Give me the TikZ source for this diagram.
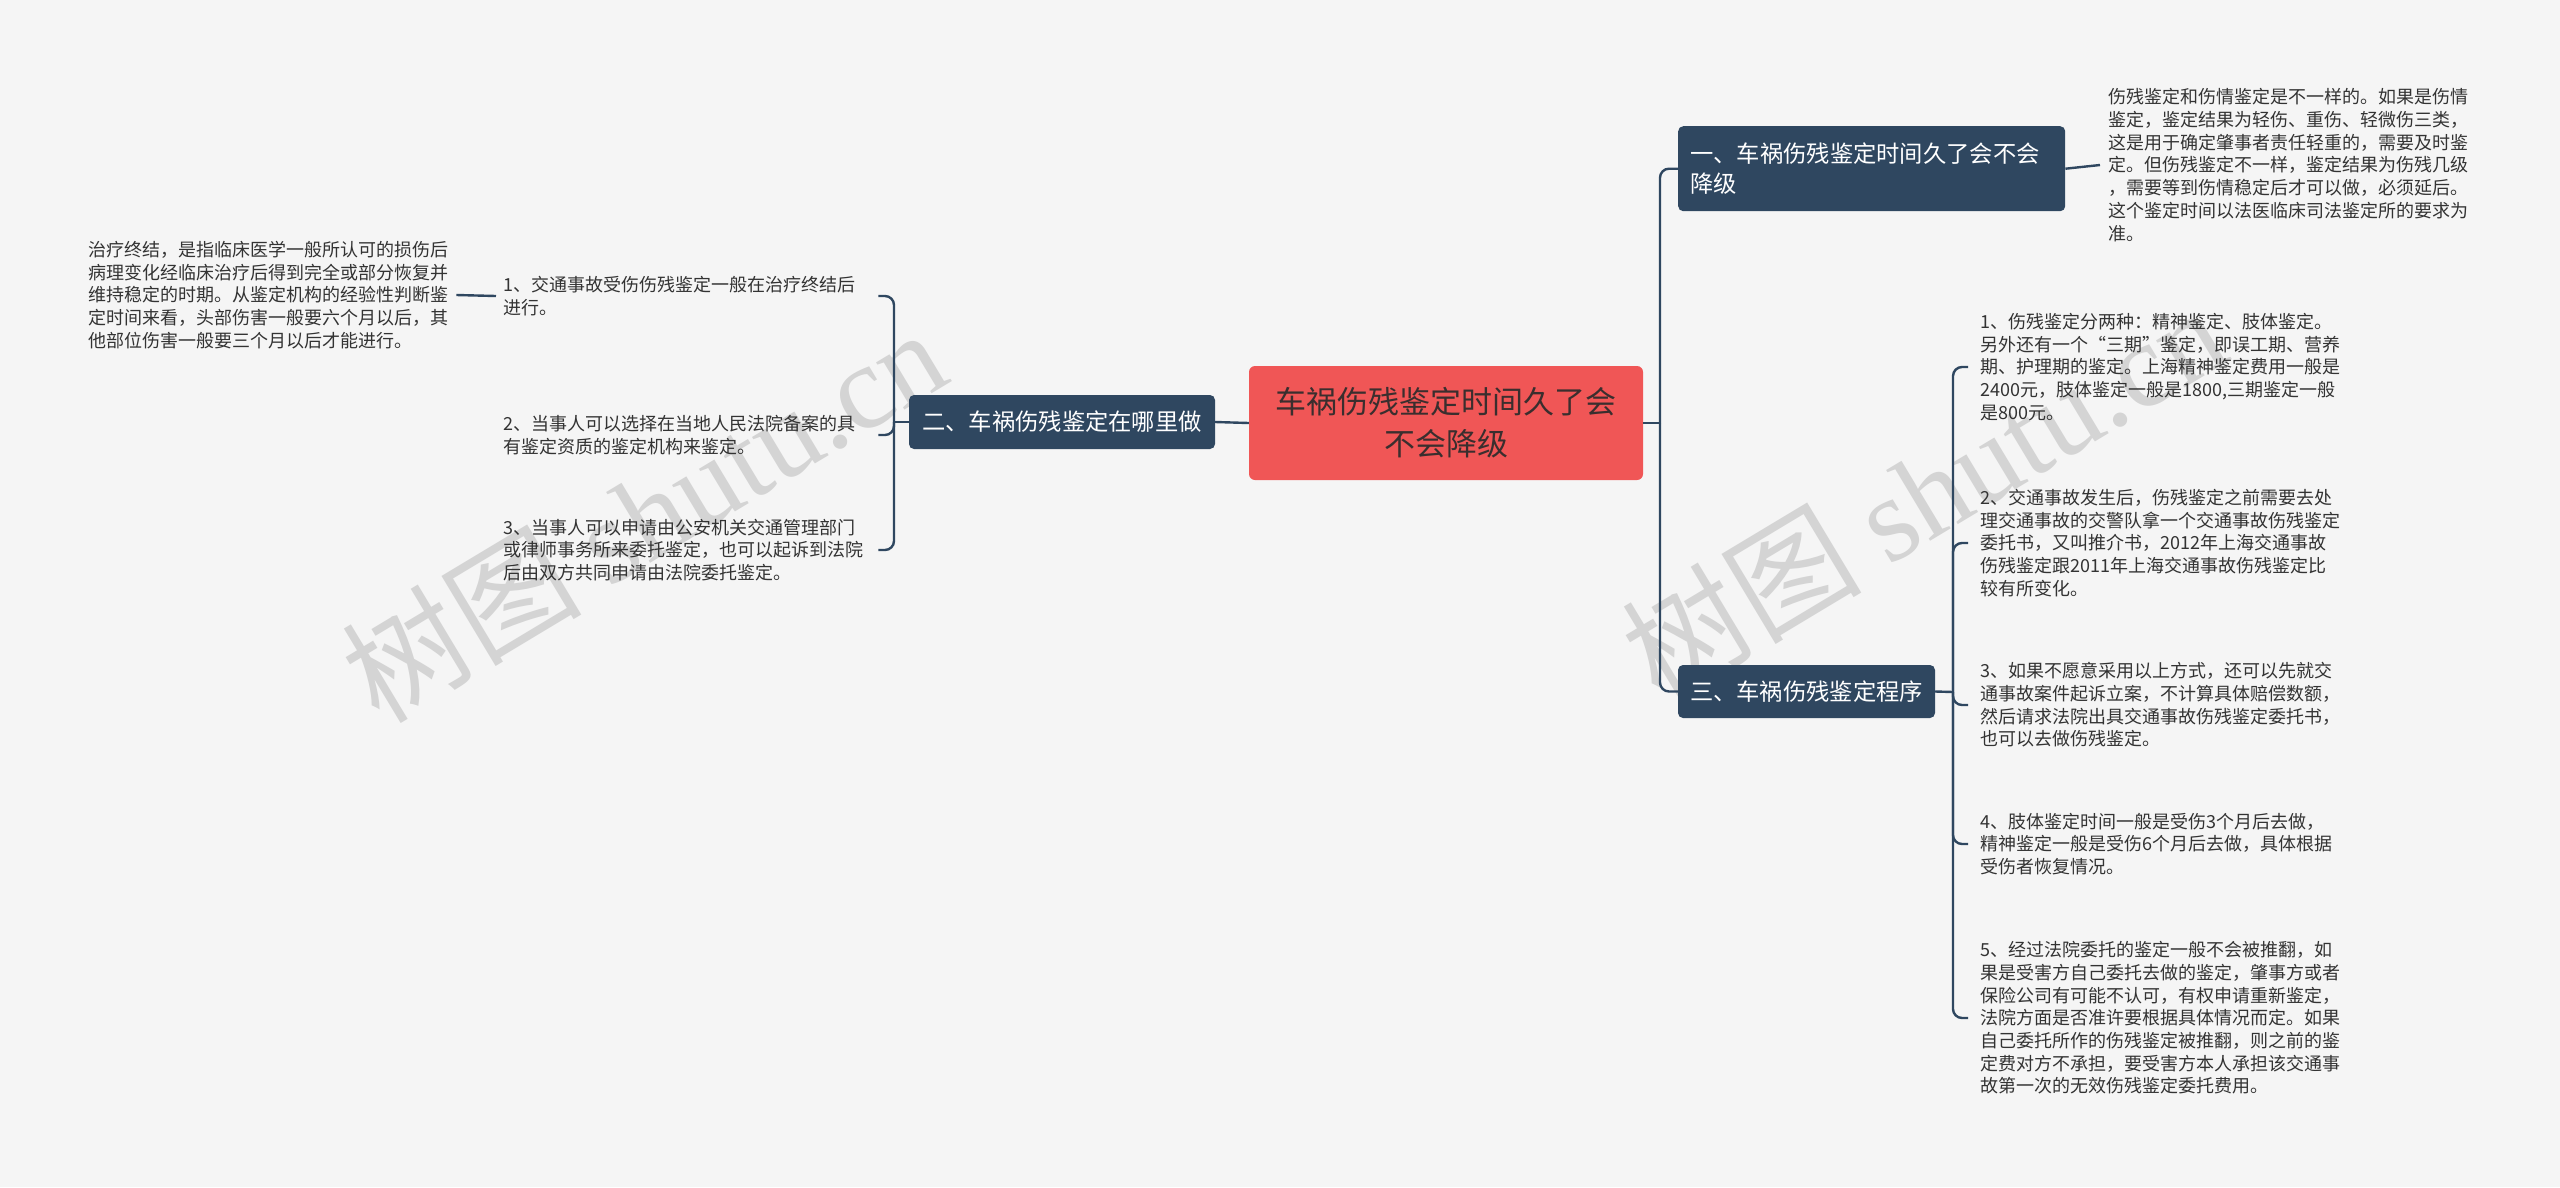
\documentclass[tikz,border=0pt]{standalone}
\usepackage{fontspec}
\setmainfont{Noto Sans CJK SC}
\newfontfamily\wmserif{Liberation Serif}
\definecolor{bg}{HTML}{F5F5F5}
\definecolor{dk}{HTML}{2F4760}
\definecolor{rd}{HTML}{F05656}
\definecolor{tx}{HTML}{333333}
\definecolor{tx2}{HTML}{3A2E2E}
\definecolor{wm}{HTML}{D4D4D4}
\begin{document}
\begin{tikzpicture}[x=1pt,y=-1pt,
  conn/.style={draw=dk,line width=2.4pt,rounded corners=9pt},
  topic/.style={fill=dk,rounded corners=5pt,text=white,inner sep=0pt,font=\fontsize{23.3}{30}\selectfont},
  leaf/.style={text=tx,inner sep=0pt,align=left,text width=368pt,anchor=west,font=\fontsize{18}{22.7}\selectfont},
  wmark/.style={text=wm,rotate=31,inner sep=0pt,font=\fontsize{120}{120}\selectfont}]
\fill[bg] (0,0) rectangle (2560,1187);
\useasboundingbox (0,0) rectangle (2560,1187);

% watermarks
\node[wmark] (wm1) at (643,514) {树图 {\wmserif shutu.cn}};
\node[wmark] (wm2) at (1923,492) {树图 {\wmserif shutu.cn}};

% main nodes
\node[fill=rd,rounded corners=6pt,text=tx2,minimum width=394pt,minimum height=114pt,align=center,inner sep=0pt,font=\fontsize{31}{42}\selectfont] (root) at (1446,423) {车祸伤残鉴定时间久了会\\不会降级};
\node[topic,minimum width=306pt,minimum height=54pt] (n2) at (1062,422) {二、车祸伤残鉴定在哪里做};
\node[topic,minimum width=257pt,minimum height=53pt] (n3) at (1806.5,691.5) {三、车祸伤残鉴定程序};
\node[topic,anchor=north west,text width=363pt,inner xsep=12pt,minimum height=85pt,align=left] (n1) at (1678,126) {一、车祸伤残鉴定时间久了会不会\\降级};

% leaves
\node[leaf] (lf) at (88,295) {治疗终结，是指临床医学一般所认可的损伤后\\病理变化经临床治疗后得到完全或部分恢复并\\维持稳定的时期。从鉴定机构的经验性判断鉴\\定时间来看，头部伤害一般要六个月以后，其\\他部位伤害一般要三个月以后才能进行。};
\node[leaf] (li1) at (503,296) {1、交通事故受伤伤残鉴定一般在治疗终结后\\进行。};
\node[leaf] (li2) at (503,435) {2、当事人可以选择在当地人民法院备案的具\\有鉴定资质的鉴定机构来鉴定。};
\node[leaf] (li3) at (503,550) {3、当事人可以申请由公安机关交通管理部门\\或律师事务所来委托鉴定，也可以起诉到法院\\后由双方共同申请由法院委托鉴定。};
\node[leaf] (tr) at (2108,165) {伤残鉴定和伤情鉴定是不一样的。如果是伤情\\鉴定，鉴定结果为轻伤、重伤、轻微伤三类，\\这是用于确定肇事者责任轻重的，需要及时鉴\\定。但伤残鉴定不一样，鉴定结果为伤残几级\\，需要等到伤情稳定后才可以做，必须延后。\\这个鉴定时间以法医临床司法鉴定所的要求为\\准。};
\node[leaf] (ri1) at (1980,367) {1、伤残鉴定分两种：精神鉴定、肢体鉴定。\\另外还有一个“三期”鉴定，即误工期、营养\\期、护理期的鉴定。上海精神鉴定费用一般是\\2400元，肢体鉴定一般是1800,三期鉴定一般\\是800元。};
\node[leaf] (ri2) at (1980,543) {2、交通事故发生后，伤残鉴定之前需要去处\\理交通事故的交警队拿一个交通事故伤残鉴定\\委托书，又叫推介书，2012年上海交通事故\\伤残鉴定跟2011年上海交通事故伤残鉴定比\\较有所变化。};
\node[leaf] (ri3) at (1980,705) {3、如果不愿意采用以上方式，还可以先就交\\通事故案件起诉立案，不计算具体赔偿数额，\\然后请求法院出具交通事故伤残鉴定委托书，\\也可以去做伤残鉴定。};
\node[leaf] (ri4) at (1980,844) {4、肢体鉴定时间一般是受伤3个月后去做，\\精神鉴定一般是受伤6个月后去做，具体根据\\受伤者恢复情况。};
\node[leaf] (ri5) at (1980,1018) {5、经过法院委托的鉴定一般不会被推翻，如\\果是受害方自己委托去做的鉴定，肇事方或者\\保险公司有可能不认可，有权申请重新鉴定，\\法院方面是否准许要根据具体情况而定。如果\\自己委托所作的伤残鉴定被推翻，则之前的鉴\\定费对方不承担，要受害方本人承担该交通事\\故第一次的无效伤残鉴定委托费用。};

% connectors
\coordinate (jr) at (1660,423);
\draw[conn] (root.east) -- (jr);
\draw[conn] (jr) |- (n1.west);
\draw[conn] (jr) |- (n3.west);
\draw[conn] (root.west) -- (n2.east);
\coordinate (jl) at (894,422);
\draw[conn] (n2.west) -- (jl);
\foreach \i in {1,2,3} \draw[conn] (jl) |- ([xshift=7pt]li\i.east);
\draw[conn] ([xshift=-7pt]li1.west) -- (lf.east);
\draw[conn] (n1.east) -- ([xshift=-8pt]tr.west);
\coordinate (jr3) at (1953,692);
\draw[conn] (n3.east) -- (jr3);
\foreach \i in {1,...,5} \draw[conn] (jr3) |- ([xshift=-12pt]ri\i.west);
\end{tikzpicture}
\end{document}
